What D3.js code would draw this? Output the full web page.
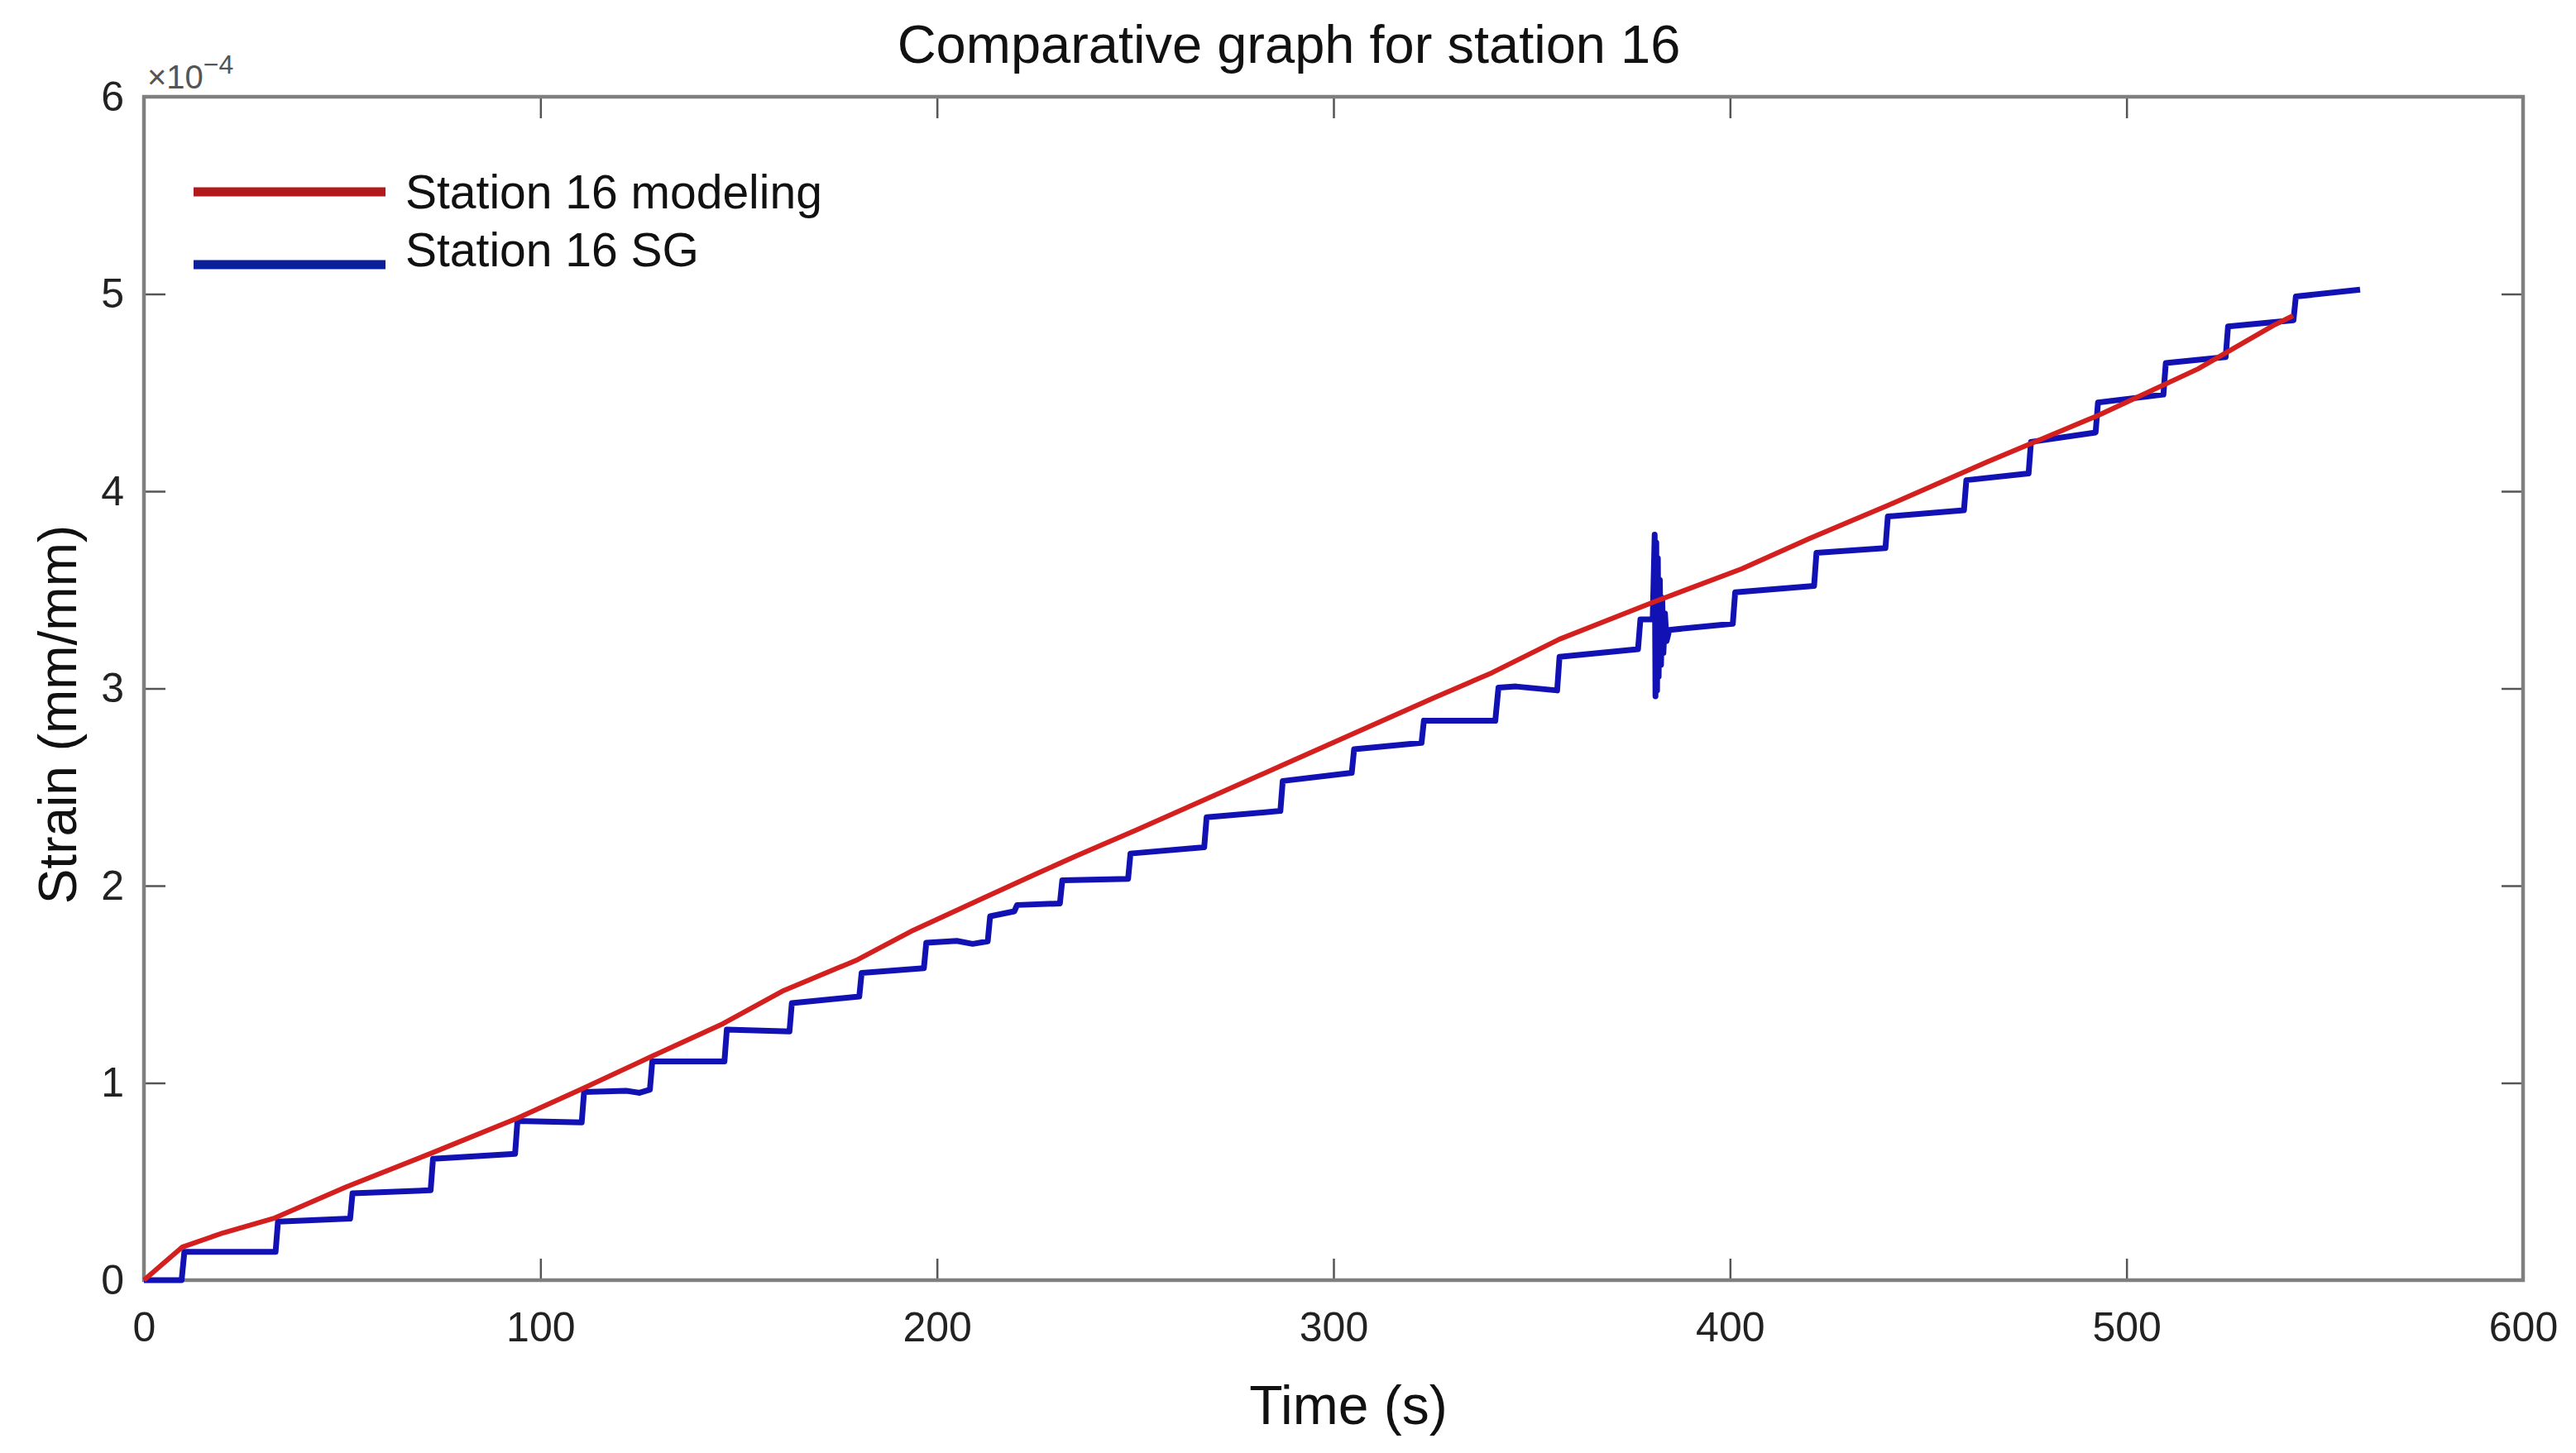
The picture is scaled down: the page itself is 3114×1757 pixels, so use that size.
<!DOCTYPE html>
<html>
<head>
<meta charset="utf-8">
<script src="https://cdn.jsdelivr.net/npm/d3@7"></script>
<style>
  body { margin: 0; background: #fff; }
  svg { display: block; font-family: "Liberation Sans", Arial, sans-serif; }
</style>
</head>
<body>
<svg id="chart" width="3114" height="1757"></svg>
<script>
// time (s) / strain (x1e-4)
var modelTime   = [0, 9.6, 20, 33, 51, 72, 94, 110, 128, 146, 161, 180, 194, 212, 225, 235, 250, 287, 325, 340, 357, 381, 403, 420, 440, 465, 493, 518, 537, 542];
var modelStrain = [0, 0.167, 0.24, 0.315, 0.473, 0.64, 0.82, 0.965, 1.134, 1.30, 1.465, 1.625, 1.774, 1.94, 2.06, 2.15, 2.28, 2.61, 2.95, 3.08, 3.25, 3.44, 3.607, 3.76, 3.93, 4.15, 4.386, 4.62, 4.84, 4.89];

var sgTime = [0, 9.5, 10.2, 33.2, 33.8, 52.0, 52.6, 72.3, 72.9, 93.6, 94.2, 110.4, 111.0, 121.6, 125, 127.6, 128.2,
  146.4, 147.0, 162.8, 163.4, 180.4, 181.0, 196.7, 197.3, 205, 209, 212.8, 213.4, 219.5, 220.2, 231.0, 231.6,
  248.2, 248.8, 267.4, 268.0, 286.6, 287.2, 304.6, 305.2, 322.2, 322.8, 340.8, 341.6, 346, 356.4, 357.0,
  376.8, 377.4, 380.5, 381.0, 381.2, 381.4, 381.6, 381.8, 382.0, 382.3, 382.6, 382.9, 383.2, 383.6, 384.0, 384.7,
  400.7, 401.3, 421.2, 421.8, 439.2, 439.8, 459.0, 459.6, 475.3, 475.9, 492.2, 492.8,
  509.3, 509.9, 525.0, 525.6, 542.1, 542.7, 558.9];
var sgStrain = [0, 0, 0.144, 0.144, 0.297, 0.312, 0.44, 0.456, 0.615, 0.64, 0.807, 0.80, 0.954, 0.96, 0.95, 0.966, 1.109,
  1.109, 1.27, 1.261, 1.405, 1.438, 1.558, 1.582, 1.711, 1.72, 1.705, 1.718, 1.845, 1.87, 1.902, 1.91, 2.027,
  2.035, 2.163, 2.195, 2.347, 2.379, 2.531, 2.572, 2.692, 2.724, 2.837, 2.836, 3.004, 3.01, 2.99, 3.16,
  3.199, 3.35, 3.35, 3.78, 2.96, 3.74, 2.99, 3.66, 3.06, 3.55, 3.12, 3.46, 3.18, 3.38, 3.24, 3.297,
  3.328, 3.487, 3.52, 3.688, 3.712, 3.872, 3.904, 4.056, 4.09, 4.25, 4.298, 4.45,
  4.49, 4.65, 4.68, 4.835, 4.867, 4.987, 5.022];

var xTicks = [0, 100, 200, 300, 400, 500, 600];
var yTicks = [0, 1, 2, 3, 4, 5, 6];

var seriesNames = ["Station 16 modeling", "Station 16 SG"];
var seriesColors = ["#d41f1f", "#1212b4"];

var svg = d3.select("#chart");
var pLeft = 174, pRight = 3050, pTop = 117, pBottom = 1548;

var x = d3.scaleLinear().domain([0, 600]).range([pLeft, pRight]);
var y = d3.scaleLinear().domain([0, 6]).range([pBottom, pTop]);

svg.append("rect").attr("width", 3114).attr("height", 1757).attr("fill", "#fff");

// box and inner ticks (MATLAB style)
function tickStyle(g){
  g.select(".domain").remove();
  g.selectAll(".tick line").attr("stroke", "#555").attr("stroke-width", 2.5);
  g.selectAll(".tick text").attr("fill", "#222").style("font-size", "50px");
}

svg.append("g").attr("transform", "translate(0," + pBottom + ")")
  .call(d3.axisBottom(x).tickValues(xTicks).tickSizeInner(-26).tickPadding(38).tickFormat(d3.format("d")))
  .call(tickStyle);
svg.append("g").attr("transform", "translate(0," + pTop + ")")
  .call(d3.axisTop(x).tickValues(xTicks).tickSizeInner(-26).tickFormat(""))
  .call(tickStyle);
svg.append("g").attr("transform", "translate(" + pLeft + ",0)")
  .call(d3.axisLeft(y).tickValues(yTicks).tickSizeInner(-26).tickPadding(24).tickFormat(d3.format("d")))
  .call(tickStyle);
svg.append("g").attr("transform", "translate(" + pRight + ",0)")
  .call(d3.axisRight(y).tickValues(yTicks).tickSizeInner(-26).tickFormat(""))
  .call(tickStyle);

svg.append("rect")
  .attr("x", pLeft).attr("y", pTop)
  .attr("width", pRight - pLeft).attr("height", pBottom - pTop)
  .attr("fill", "none").attr("stroke", "#7f7f7f").attr("stroke-width", 4.5);

// exponent label
var ex = svg.append("text").attr("x", pLeft + 4).attr("y", pTop - 10)
  .attr("fill", "#555").style("font-size", "40px");
ex.append("tspan").text("\u00d710");
ex.append("tspan").attr("dy", -18).style("font-size", "32px").text("\u22124");

// lines
var model = modelTime.map(function(t, i){ return [t, modelStrain[i]]; });
var sg = sgTime.map(function(t, i){ return [t, sgStrain[i]]; });

var line = d3.line()
  .x(function(d){ return x(d[0]); })
  .y(function(d){ return y(d[1]); });

svg.append("path").datum(sg)
  .attr("d", line).attr("fill", "none")
  .attr("stroke", seriesColors[1]).attr("stroke-width", 7)
  .attr("stroke-linejoin", "round");

svg.append("path").datum(model)
  .attr("d", line).attr("fill", "none")
  .attr("stroke", seriesColors[0]).attr("stroke-width", 6)
  .attr("stroke-linejoin", "round");

// legend
var lg = svg.append("g");
var legRows = [{sy: 232, ty: 252}, {sy: 320, ty: 322}];
seriesNames.forEach(function(name, i){
  lg.append("line")
    .attr("x1", 234).attr("x2", 466)
    .attr("y1", legRows[i].sy).attr("y2", legRows[i].sy)
    .attr("stroke", i == 0 ? "#b01a1a" : "#0a1f9a").attr("stroke-width", 11);
  lg.append("text")
    .attr("x", 490).attr("y", legRows[i].ty)
    .attr("fill", "#111").style("font-size", "57px")
    .text(name);
});

// titles
svg.append("text").attr("x", 1558).attr("y", 76)
  .attr("text-anchor", "middle").attr("fill", "#111")
  .style("font-size", "65px").text("Comparative graph for station 16");

svg.append("text").attr("x", 1630).attr("y", 1722)
  .attr("text-anchor", "middle").attr("fill", "#111")
  .style("font-size", "66px").text("Time (s)");

svg.append("text")
  .attr("transform", "translate(92,864) rotate(-90)")
  .attr("text-anchor", "middle").attr("fill", "#111")
  .style("font-size", "64px").text("Strain (mm/mm)");
</script>
</body>
</html>
